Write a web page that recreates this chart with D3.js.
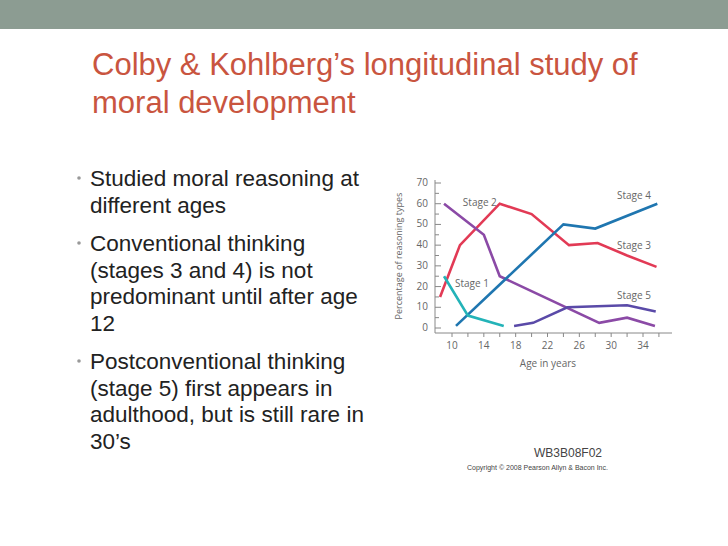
<!DOCTYPE html>
<html><head><meta charset="utf-8">
<script src="https://cdn.jsdelivr.net/npm/d3@7"></script>
<style>body{margin:0;background:#fff}</style>
</head><body>
<script>
// ages in years, percentage of reasoning types
const stage1 = [[9, 25], [12, 6], [16.5, 1]];
const stage2 = [[9, 60], [14, 45], [16, 25], [28.5, 2.5], [32, 5], [35.5, 1]];
const stage3 = [[8.5, 15], [11, 40], [16, 60], [20, 55], [24.7, 40], [28.3, 41], [32, 35], [35.7, 29.5]];
const stage4 = [[10.5, 1], [24, 50], [28, 48], [35.8, 60]];
const stage5 = [[17.8, 1], [20.2, 2.5], [24.5, 10], [32, 11], [35.6, 8]];
const yTicks = [0, 10, 20, 30, 40, 50, 60, 70];
const xTickLabels = [10, 14, 18, 22, 26, 30, 34];
const bullets = [
  ['Studied moral reasoning at', 'different ages'],
  ['Conventional thinking', '(stages 3 and 4) is not', 'predominant until after age', '12'],
  ['Postconventional thinking', '(stage 5) first appears in', 'adulthood, but is still rare in', '30\u2019s']
];

let width = 728, height = 546;
let svg = d3.select(document.body).append('svg').attr('width', width).attr('height', height);
svg.append('rect').attr('width', width).attr('height', 29).attr('fill', '#8c9c92');

svg.append('g').style('font', '31px "Liberation Sans", Arial, sans-serif').attr('fill', '#c9553f')
  .selectAll('text').data(['Colby & Kohlberg\u2019s longitudinal study of', 'moral development']).join('text')
  .attr('x', 92).attr('y', (d, i) => 75 + i * 38).text(d => d);

let by = 186;
let bg = svg.append('g').style('font', '22.5px "Liberation Sans", Arial, sans-serif').attr('fill', '#222');
bullets.forEach(lines => {
  svg.append('circle').attr('cx', 79).attr('cy', by - 8).attr('r', 1.8).attr('fill', '#999');
  lines.forEach((l, i) => {
    bg.append('text').attr('x', 90).attr('y', by + i * 26.5).text(l);
  });
  by += lines.length * 26.5 + 12;
});

// chart
let x = d3.scaleLinear().domain([10, 34]).range([452, 643]);
let y = d3.scaleLinear().domain([0, 70]).range([328, 183]);
let g = svg.append('g').style('font', '10px "Open Sans", sans-serif').attr('fill', '#666');
g.append('line').attr('x1', 435).attr('x2', 672).attr('y1', 333).attr('y2', 333).attr('stroke', '#888');
g.append('line').attr('x1', 435).attr('x2', 435).attr('y1', 180).attr('y2', 333).attr('stroke', '#888');
d3.range(0, 71, 5).forEach(v => {
  g.append('line').attr('x1', 435).attr('x2', v % 10 ? 439 : 441).attr('y1', y(v)).attr('y2', y(v)).attr('stroke', '#888');
});
yTicks.forEach(v => g.append('text').attr('x', 428).attr('y', y(v) + 3).attr('text-anchor', 'end').text(v));
d3.range(10, 37, 2).forEach(v => {
  g.append('line').attr('x1', x(v)).attr('x2', x(v)).attr('y1', 333).attr('y2', 337).attr('stroke', '#888');
});
xTickLabels.forEach(v => g.append('text').attr('x', x(v)).attr('y', 349).attr('text-anchor', 'middle').text(v));
g.append('text').attr('x', 548).attr('y', 367).attr('text-anchor', 'middle').text('Age in years');
g.append('text').attr('transform', 'translate(402,256) rotate(-90)').attr('text-anchor', 'middle')
  .style('font-size', '9px').text('Percentage of reasoning types');

let line = d3.line().x(d => x(d[0])).y(d => y(d[1]));
[[stage3, '#e23a55'], [stage2, '#8b4aa6'], [stage4, '#1f76b0'], [stage1, '#23b3b8'], [stage5, '#5a4aa8']]
  .forEach(([data, c]) => {
    svg.append('path').attr('d', line(data)).attr('fill', 'none').attr('stroke', c).attr('stroke-width', 2.6);
  });

let labels = [['Stage 2', 13.5, 59], ['Stage 1', 12.5, 20], ['Stage 4', 35, 62.5], ['Stage 3', 35, 38], ['Stage 5', 35, 14]];
labels.forEach(([t, a, v], i) => {
  g.append('text').attr('x', x(a)).attr('y', y(v)).attr('text-anchor', i < 2 ? 'middle' : 'end').text(t);
});

svg.append('text').attr('x', 568).attr('y', 457).attr('text-anchor', 'middle')
  .style('font', '12px "Liberation Sans", sans-serif').attr('fill', '#444').text('WB3B08F02');
svg.append('text').attr('x', 467).attr('y', 470)
  .style('font', '7px "Liberation Sans", sans-serif').attr('fill', '#444').text('Copyright \u00a9 2008 Pearson Allyn & Bacon Inc.');
</script>
</body></html>
